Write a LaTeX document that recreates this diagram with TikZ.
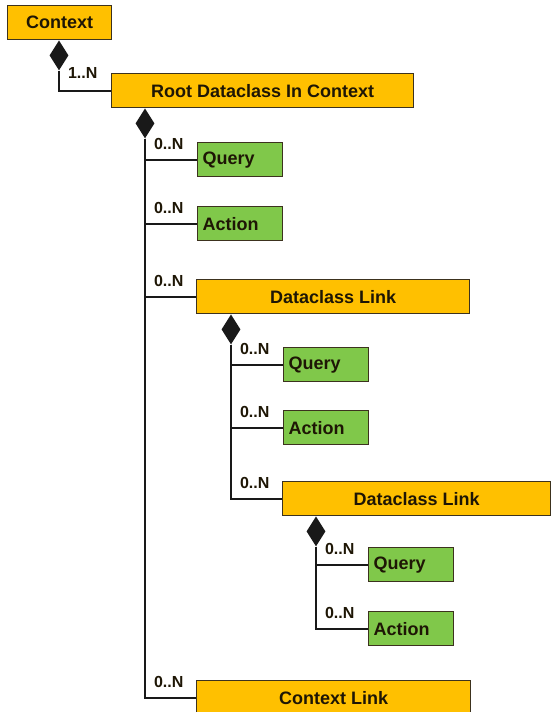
\documentclass[tikz,border=0pt]{standalone}
\usepackage{fontspec}
\setmainfont{Liberation Sans}
\usetikzlibrary{shapes.geometric}
\definecolor{ctxorange}{RGB}{255, 192, 0}
\definecolor{ctxgreen}{RGB}{128, 200, 74}
\definecolor{ctxborder}{RGB}{60, 50, 30}
\definecolor{ctxtext}{RGB}{30, 22, 5}
\definecolor{ctxline}{RGB}{25, 25, 25}
\tikzset{
  classbox/.style={draw=ctxborder, line width=1.2pt, fill=ctxorange, text=ctxtext,
    minimum height=34pt, inner sep=0pt, anchor=north west,
    font=\fontsize{18}{20}\selectfont\bfseries},
  leafbox/.style={classbox, fill=ctxgreen, minimum width=85pt, text width=75pt, align=left},
  owner/.style={diamond, fill=ctxline, draw=none, inner sep=0pt,
    minimum width=19pt, minimum height=30pt, anchor=north},
  link/.style={draw=ctxline, line width=2pt},
  mult/.style={pos=0.5, anchor=south west, inner sep=0pt, xshift=8pt, yshift=9pt,
    text=ctxtext, font=\fontsize{16}{18}\selectfont\bfseries}
}
\begin{document}
\begin{tikzpicture}[x=1pt, y=-1pt]
\useasboundingbox (0,0) rectangle (551,712);
% classes
\node[classbox, minimum width=104pt] (context) at (7,5) {Context};
\node[classbox, minimum width=302pt] (root) at (111,73) {Root Dataclass In Context};
\node[leafbox] (query1) at (197,142) {Query};
\node[leafbox] (action1) at (197,206) {Action};
\node[classbox, minimum width=273pt] (link1) at (196,279) {Dataclass Link};
\node[leafbox] (query2) at (283,347) {Query};
\node[leafbox] (action2) at (283,410) {Action};
\node[classbox, minimum width=268pt] (link2) at (282,481) {Dataclass Link};
\node[leafbox] (query3) at (368,547) {Query};
\node[leafbox] (action3) at (368,611) {Action};
\node[classbox, minimum width=274pt] (ctxlink) at (196,680) {Context Link};
% composition diamonds
\node[owner] (dctx) at ([xshift=52pt]context.south west) {};
\node[owner] (droot) at ([xshift=34pt]root.south west) {};
\node[owner] (dlink1) at ([xshift=35pt]link1.south west) {};
\node[owner] (dlink2) at ([xshift=34pt]link2.south west) {};
% connectors
\draw[link] (dctx.south) |- node[mult, yshift=2pt] {1..N} (root.west);
\draw[link] (droot.south) |- node[mult] {0..N} (query1.west);
\draw[link] (droot.south) |- node[mult] {0..N} (action1.west);
\draw[link] (droot.south) |- node[mult] {0..N} (link1.west);
\draw[link] (droot.south) |- node[mult] {0..N} (ctxlink.west);
\draw[link] (dlink1.south) |- node[mult] {0..N} (query2.west);
\draw[link] (dlink1.south) |- node[mult] {0..N} (action2.west);
\draw[link] (dlink1.south) |- node[mult] {0..N} (link2.west);
\draw[link] (dlink2.south) |- node[mult] {0..N} (query3.west);
\draw[link] (dlink2.south) |- node[mult] {0..N} (action3.west);
\end{tikzpicture}
\end{document}
